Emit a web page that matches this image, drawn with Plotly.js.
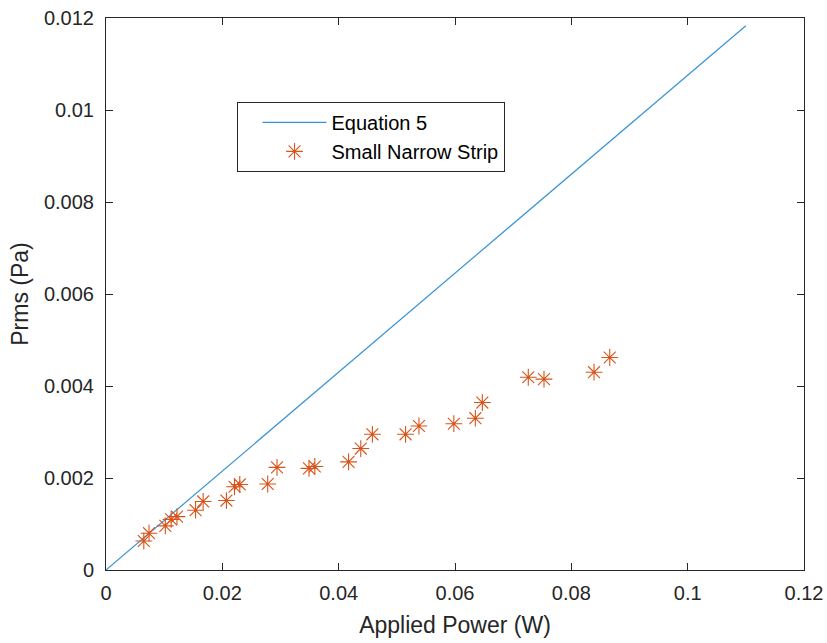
<!DOCTYPE html>
<html>
<head>
<meta charset="utf-8">
<script src="https://cdn.plot.ly/plotly-3.0.1.min.js"></script>
<style>html,body{margin:0;padding:0;background:#fff;}#chart{width:827px;height:643px;}</style>
</head>
<body>
<div id="chart"></div>
<script>
// Equation 5 (straight line)
const eqX = [0, 0.11];
const eqY = [0, 0.01183];

// Small Narrow Strip measurements
const stripX = [0.0065, 0.0074, 0.0102, 0.0112, 0.0122, 0.0154, 0.0167, 0.0207, 0.0221, 0.0230,
                0.0278, 0.0294, 0.0349, 0.0359, 0.0417, 0.0438, 0.0458, 0.0515, 0.0538, 0.0598,
                0.0635, 0.0647, 0.0726, 0.0753, 0.0839, 0.0866];
const stripY = [0.00063, 0.00080, 0.00096, 0.00110, 0.00116, 0.00130, 0.00149, 0.00151, 0.00181, 0.00186,
                0.00187, 0.00223, 0.00221, 0.00225, 0.00235, 0.00264, 0.00295, 0.00295, 0.00313, 0.00318,
                0.00330, 0.00364, 0.00419, 0.00415, 0.00430, 0.00462];

const xTicks = [0, 0.02, 0.04, 0.06, 0.08, 0.1, 0.12];
const yTicks = [0, 0.002, 0.004, 0.006, 0.008, 0.01, 0.012];

const font = 'Liberation Sans, Arial, Helvetica, sans-serif';
const axisColor = '#262626';

const traces = [
  {
    x: eqX, y: eqY, type: 'scatter', mode: 'lines', name: 'Equation 5',
    line: {color: '#3a93d4', width: 1.2}
  },
  {
    x: stripX, y: stripY, type: 'scatter', mode: 'markers', name: 'Small Narrow Strip',
    marker: {symbol: 'asterisk-open', size: 14, color: '#D95319', line: {color: '#D95319', width: 1.1}}
  }
];

const axisCommon = {
  showline: true, linecolor: axisColor, linewidth: 1, mirror: 'allticks',
  ticks: 'inside', ticklen: 7, tickwidth: 1, tickcolor: axisColor,
  showgrid: false, zeroline: false,
  tickfont: {family: font, size: 20, color: axisColor}
};

const layout = {
  width: 827, height: 643,
  margin: {l: 106, r: 23, t: 18, b: 73},
  paper_bgcolor: '#ffffff', plot_bgcolor: '#ffffff',
  font: {family: font, color: axisColor},
  showlegend: true,
  xaxis: Object.assign({}, axisCommon, {
    range: [0, 0.12], tickvals: xTicks, ticktext: xTicks.map(String),
    ticklabelstandoff: 5,
    title: {text: 'Applied Power (W)', font: {family: font, size: 23, color: axisColor}, standoff: 13}
  }),
  yaxis: Object.assign({}, axisCommon, {
    range: [0, 0.012], tickvals: yTicks, ticktext: yTicks.map(String),
    ticklabelstandoff: 7,
    title: {text: 'Prms (Pa)', font: {family: font, size: 23, color: axisColor}, standoff: 8}
  }),
  legend: {
    x: 0.187, y: 0.848, xanchor: 'left', yanchor: 'top',
    bgcolor: '#ffffff', bordercolor: axisColor, borderwidth: 1,
    font: {family: font, size: 20, color: '#000000'},
    itemwidth: 64, indentation: 20, tracegroupgap: 0,
    entrywidth: 234, entrywidthmode: 'pixels'
  }
};

Plotly.newPlot('chart', traces, layout, {displayModeBar: false, staticPlot: true});
</script>
</body>
</html>
